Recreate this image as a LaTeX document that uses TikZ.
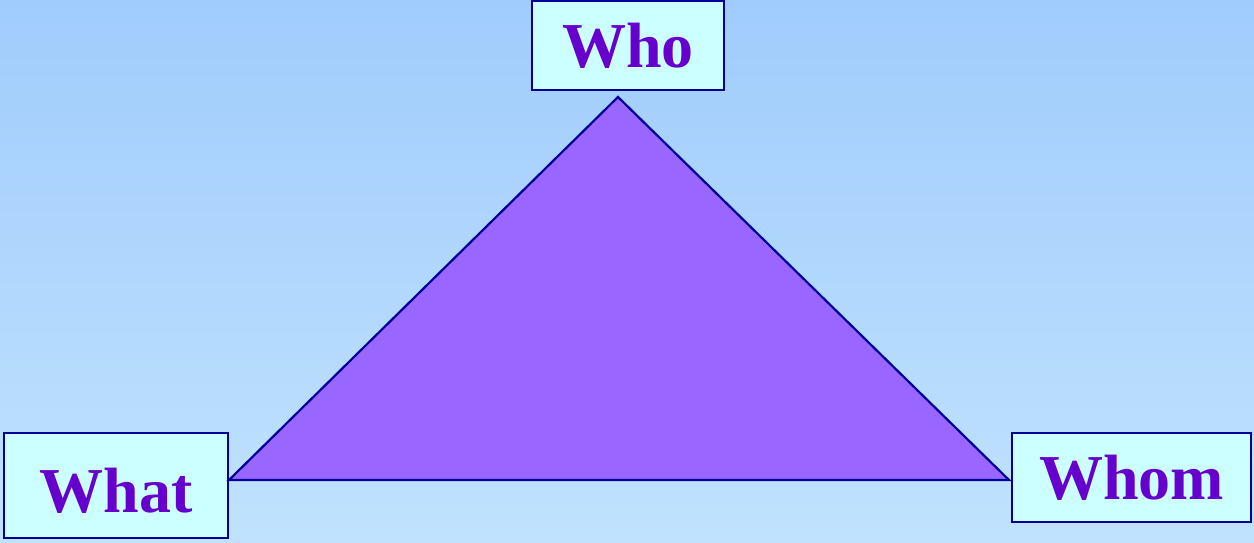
\documentclass[tikz,border=0pt]{standalone}
\usepackage{fontspec}
\setmainfont{Liberation Serif}
\usepackage{tikz}
\usetikzlibrary{positioning,calc}
\definecolor{skytop}{HTML}{A0CCFC}
\definecolor{skybot}{HTML}{C0E2FE}
\definecolor{edge}{HTML}{000099}
\definecolor{boxbg}{HTML}{CCFFFF}
\definecolor{word}{HTML}{6600CC}
\definecolor{tri}{HTML}{9966FF}
\tikzset{
  wbox/.style={rectangle,draw=edge,fill=boxbg,line width=2pt,inner sep=0pt,
    font=\fontsize{64}{70}\selectfont\bfseries,text=word},
  tribody/.style={draw=edge,fill=tri,line width=2.2pt,line join=miter},
}

\begin{document}
\begin{tikzpicture}[x=1pt,y=-1pt]
  \shade[top color=skytop,bottom color=skybot] (0,0) rectangle (1254,542);
  \node[wbox,minimum width=192pt,minimum height=89pt] (who) at (628,45.5) {Who};
  \node[wbox,minimum width=224pt,minimum height=105pt,text height=55pt] (what) at (116,485.5) {What};
  \node[wbox,minimum width=239pt,minimum height=89pt] (whom) at (1131.5,477.5) {Whom};
  \coordinate (apex) at (618,97);
  \coordinate (lft) at (what.east |- 0,480);
  \coordinate (rgt) at ($(whom.west |- 0,480)+(-2,0)$);
  \draw[tribody] (apex) -- (lft) -- (rgt) -- cycle;
\end{tikzpicture}
\end{document}
